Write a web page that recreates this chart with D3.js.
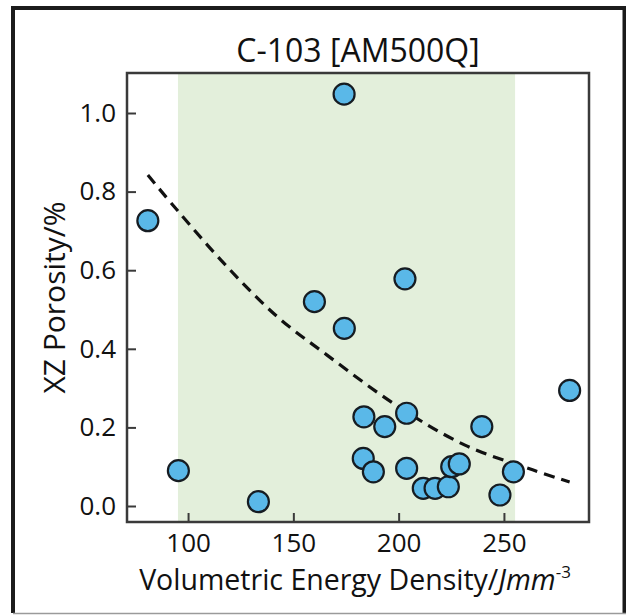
<!DOCTYPE html>
<html>
<head>
<meta charset="utf-8">
<script src="https://cdn.jsdelivr.net/npm/d3@7"></script>
<style>
  html, body { margin: 0; padding: 0; background: #fff; }
  text { font-family: "Open Sans", Lato, sans-serif; fill: #111; }
</style>
</head>
<body>
<div id="chart"></div>
<script>
// measured points: volumetric energy density vs XZ porosity
const energy   = [80.9, 95.4, 133.4, 160.0, 174.1, 174.2, 183.5, 183.2, 188.0, 193.4, 203.8,
                  203.0, 203.8, 211.7, 217.3, 223.6, 225.2, 228.8, 239.5, 248.1, 254.5, 281.2];
const porosity = [0.726, 0.090, 0.011, 0.520, 1.048, 0.452, 0.227, 0.121, 0.087, 0.202, 0.236,
                  0.578, 0.096, 0.045, 0.045, 0.049, 0.100, 0.107, 0.202, 0.028, 0.087, 0.294];

// dashed trend line
const fitX = [80.9, 94.8, 118.5, 142.3, 166.0, 199.5, 231.5, 263.6, 281.2];
const fitY = [0.842, 0.753, 0.609, 0.482, 0.384, 0.254, 0.155, 0.092, 0.061];

// shaded process window
const bandRange = [95.2, 255.3];

const xTicks = [100, 150, 200, 250];
const yTicks = [0.0, 0.2, 0.4, 0.6, 0.8, 1.0];

const W = 626, H = 615;
const plot = {left: 127, right: 589, top: 73, bottom: 522};

const svg = d3.select("#chart").append("svg")
    .attr("width", W)
    .attr("height", H);

// outer frame
svg.append("path")
    .attr("d", `M13,${H - 2} L13,8 L624.5,8 L624.5,${H - 2}`)
    .attr("fill", "none")
    .attr("stroke", "#1c1c1c")
    .attr("stroke-width", 4);
svg.append("line")
    .attr("x1", 13).attr("x2", W)
    .attr("y1", 613.5).attr("y2", 613.5)
    .attr("stroke", "#9a9a9a")
    .attr("stroke-width", 1.5);

const x = d3.scaleLinear().domain([71, 290.4]).range([plot.left, plot.right]);
const y = d3.scaleLinear().domain([-0.0407, 1.1018]).range([plot.bottom, plot.top]);

// green band
svg.append("rect")
    .attr("x", x(bandRange[0]))
    .attr("y", plot.top)
    .attr("width", x(bandRange[1]) - x(bandRange[0]))
    .attr("height", plot.bottom - plot.top)
    .attr("fill", "#e3efdb");

// axes
const yAxis = d3.axisLeft(y)
    .tickValues(yTicks)
    .tickFormat(d3.format(".1f"))
    .tickSizeInner(-9)
    .tickSizeOuter(0)
    .tickPadding(11);

const xAxis = d3.axisBottom(x)
    .tickValues(xTicks)
    .tickSizeInner(-9)
    .tickSizeOuter(0)
    .tickPadding(12);

const gy = svg.append("g")
    .attr("transform", `translate(${plot.left},0)`)
    .call(yAxis);
const gx = svg.append("g")
    .attr("transform", `translate(0,${plot.bottom})`)
    .call(xAxis);

[gx, gy].forEach(g => {
    g.select(".domain").remove();
    g.selectAll(".tick line").attr("stroke", "#3a3a3a").attr("stroke-width", 2);
    g.selectAll(".tick text")
        .attr("font-size", 26)
        .attr("fill", "#111")
        .style("font-family", "'Open Sans', Lato, sans-serif");
});

// dashed fit
const fitLine = d3.line()
    .x(d => x(d[0]))
    .y(d => y(d[1]))
    .curve(d3.curveCatmullRom);

svg.append("path")
    .datum(fitX.map((v, i) => [v, fitY[i]]))
    .attr("d", fitLine)
    .attr("fill", "none")
    .attr("stroke", "#111")
    .attr("stroke-width", 3.2)
    .attr("stroke-dasharray", "11,7");

// points
svg.append("g")
    .selectAll("circle")
    .data(energy.map((v, i) => [v, porosity[i]]))
    .join("circle")
    .attr("cx", d => x(d[0]))
    .attr("cy", d => y(d[1]))
    .attr("r", 10.5)
    .attr("fill", "#5ab8e8")
    .attr("stroke", "#161c22")
    .attr("stroke-width", 2.2);

// plot box
svg.append("rect")
    .attr("x", plot.left)
    .attr("y", plot.top)
    .attr("width", plot.right - plot.left)
    .attr("height", plot.bottom - plot.top)
    .attr("fill", "none")
    .attr("stroke", "#3a3a3a")
    .attr("stroke-width", 2.5);

// title
svg.append("text")
    .attr("x", (plot.left + plot.right) / 2)
    .attr("y", 62)
    .attr("text-anchor", "middle")
    .attr("font-size", 32)
    .text("C-103 [AM500Q]");

// x label
const xl = svg.append("text")
    .attr("x", (plot.left + plot.right) / 2 - 3)
    .attr("y", 590)
    .attr("text-anchor", "middle")
    .attr("font-size", 28.5);
xl.append("tspan").text("Volumetric Energy Density/");
xl.append("tspan").attr("font-style", "italic").text("Jmm");
xl.append("tspan").attr("font-size", 17).attr("dy", -12).text("-3");

// y label
svg.append("text")
    .attr("transform", `translate(65,${(plot.top + plot.bottom) / 2}) rotate(-90)`)
    .attr("text-anchor", "middle")
    .attr("font-size", 30)
    .text("XZ Porosity/%");
</script>
</body>
</html>
